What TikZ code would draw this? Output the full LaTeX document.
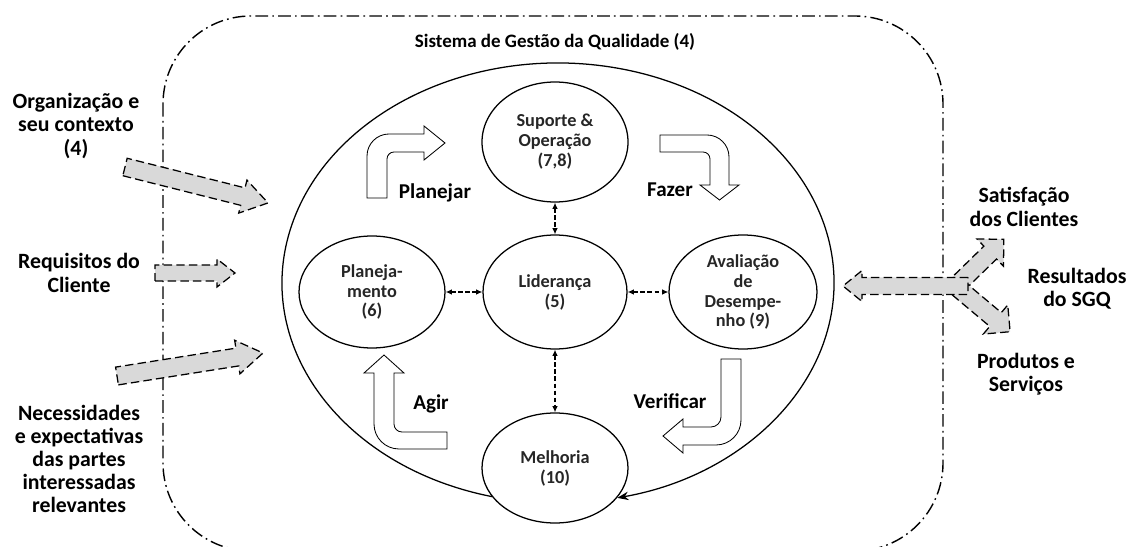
\documentclass[tikz,border=0pt]{standalone}
\usepackage{fontspec}
\setmainfont{Carlito}
\usetikzlibrary{shapes.geometric, arrows.meta}

\def\u{0.025cm}

\tikzset{
  frame/.style={line width=1pt, rounded corners=2.2cm, dash pattern=on 9pt off 3pt on 1.2pt off 3pt},
  phase/.style={ellipse, draw, line width=0.9pt, inner sep=0pt, align=center, text=black!85, font=\fontsize{13}{14.2}\selectfont\bfseries},
  link/.style={line width=0.8pt, dash pattern=on 3pt off 2pt, {Latex[length=4.5pt,width=4pt]}-{Latex[length=4.5pt,width=4pt]}},
  turnarrow/.style={draw, line width=0.6pt, fill=white},
  inarrow/.style={draw, fill=gray!30, line width=0.9pt, dash pattern=on 6pt off 3pt},
  outtext/.style={align=center, font=\fontsize{15.5}{16.5}\selectfont\bfseries},
  titletext/.style={font=\fontsize{13.5}{16}\selectfont\bfseries},
  steptext/.style={font=\fontsize{15}{17}\selectfont\bfseries},
}

% gray block arrow: tail, angle, length, shaft half width, head half width, head length
\newcommand{\grayarrow}[6]{%
  \draw[inarrow, shift={#1}, rotate=#2] (0,-#4) -- (#3-#6,-#4) -- (#3-#6,-#5) -- (#3,0) -- (#3-#6,#5) -- (#3-#6,#4) -- (0,#4) -- cycle;}

\begin{document}
\begin{tikzpicture}[x=\u, y=\u]

\useasboundingbox (0,0) rectangle (1129,546);

% system frame
\draw[frame] (163,530) rectangle (943,-5);
\node[titletext] (sgq) at (555,504) {Sistema de Gestão da Qualidade (4)};

% phases
\node[phase, minimum width=146*\u, minimum height=120*\u] (sup)  at (555,404) {Suporte \&\\Operação\\(7,8)};
\node[phase, minimum width=146*\u, minimum height=112*\u] (plan) at (372,254) {Planeja-\\mento\\(6)};
\node[phase, minimum width=144*\u, minimum height=114*\u] (lid)  at (555,254) {Liderança\\(5)};
\node[phase, minimum width=148*\u, minimum height=114*\u] (aval) at (743,254) {Avaliação\\de\\Desempe-\\nho (9)};
\node[phase, minimum width=146*\u, minimum height=110*\u] (melh) at (555,78)  {Melhoria\\(10)};

% big cycle
\coordinate (bigc) at (558,263);
\draw[line width=0.9pt, -{Stealth[length=8pt,width=6pt]}] ([shift={(256.2:276 and 220)}]bigc) arc[start angle=256.2, end angle=-77.6, x radius=276, y radius=220];

% links to leadership
\draw[link] (plan) -- (lid);
\draw[link] (lid) -- (aval);
\draw[link] (sup) -- (lid);
\draw[link] (lid) -- (melh);

% turning arrows
\draw[turnarrow] (367,348) -- (367,390) arc[start angle=180, end angle=90, radius=22] -- (424,412) -- (424,420) -- (445,403) -- (424,386) -- (424,394) -- (394,394) arc[start angle=90, end angle=180, radius=7] -- (387,348) -- cycle;
\draw[turnarrow] (660,411) -- (707,411) arc[start angle=90, end angle=0, radius=22] -- (729,361) -- (739,361) -- (719.5,346) -- (700,361) -- (710,361) -- (710,387) arc[start angle=0, end angle=90, radius=7] -- (660,394) -- cycle;
\draw[turnarrow] (741,187) -- (741,126) arc[start angle=0, end angle=-90, radius=25] -- (683,101) -- (683,93) -- (663,110) -- (683,127) -- (683,119) -- (711,119) arc[start angle=-90, end angle=0, radius=10] -- (721,187) -- cycle;
\draw[turnarrow] (447,97) -- (399,97) arc[start angle=-90, end angle=-180, radius=25] -- (374,173) -- (364,173) -- (384,191) -- (404,173) -- (394,173) -- (394,122) arc[start angle=180, end angle=270, radius=8] -- (447,114) -- cycle;

\node[steptext] (pl) at (435,353) {Planejar};
\node[steptext] (fz) at (670,356) {Fazer};
\node[steptext] (ag) at (431,142) {Agir};
\node[steptext] (vf) at (670,145) {Verificar};

% inputs
\grayarrow{(125,379)}{-14.1}{147.5}{9}{17}{26}
\grayarrow{(155,273)}{0}{80}{8}{14}{18}
\grayarrow{(117,170)}{8.95}{147.8}{9}{17}{26}

\node[outtext] (org) at (76,420) {Organização e\\seu contexto\\(4)};
\node[outtext] (req) at (79,273) {Requisitos do\\Cliente};
\node[outtext] (nec) at (79,87)  {Necessidades\\e expectativas\\das partes\\interessadas\\relevantes};

% outputs
\grayarrow{(958,262)}{44.3}{64}{9}{19}{19}
\grayarrow{(958,258)}{-40}{68}{9}{19}{19}
\grayarrow{(968,260)}{180}{125}{8.5}{15.5}{19}

\node[outtext] (sat)  at (1024,339) {Satisfação\\dos Clientes};
\node[outtext] (res)  at (1077,257) {Resultados\\do SGQ};
\node[outtext] (prod) at (1026,172) {Produtos e\\Serviços};

\end{tikzpicture}
\end{document}
